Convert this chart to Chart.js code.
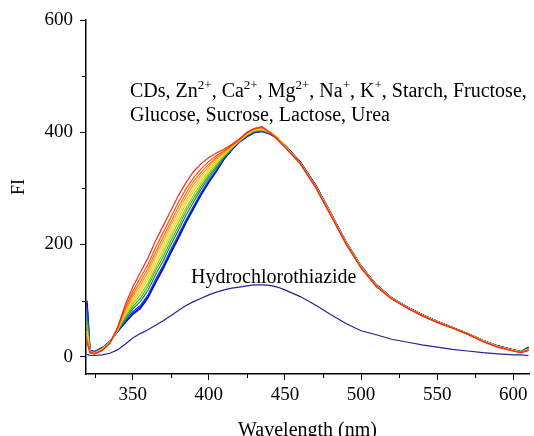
<!DOCTYPE html>
<html>
<head>
<meta charset="utf-8">
<script src="https://cdn.jsdelivr.net/npm/chart.js@4.4.0/dist/chart.umd.min.js"></script>
<style>
  html, body { margin: 0; padding: 0; width: 534px; height: 436px; overflow: hidden; background: #fff; }
  #wrap { position: relative; width: 534px; height: 446px; }
  canvas { display: block; }
  .note {
    position: absolute;
    font-family: "Liberation Serif", "Times New Roman", serif;
    font-size: 20px;
    line-height: 24px;
    color: #000;
    white-space: nowrap;
  }
  .note sup { font-size: 13px; line-height: 0; vertical-align: baseline; position: relative; top: -8px; }
  #ylab { font-size: 18px; line-height: 18px; transform: translate(-50%, -50%) rotate(-90deg); }
</style>
</head>
<body>
<div id="wrap">
  <canvas id="chart" width="534" height="446"></canvas>
  <div class="note" style="left:130px; top:78px;">CDs, Zn<sup>2+</sup>, Ca<sup>2+</sup>, Mg<sup>2+</sup>, Na<sup>+</sup>, K<sup>+</sup>, Starch, Fructose,<br>Glucose, Sucrose, Lactose, Urea</div>
  <div class="note" style="left:191px; top:264px;">Hydrochlorothiazide</div>
  <div class="note" id="ylab" style="left:18px; top:187px;">FI</div>
</div>
<script>
// Wavelength grid (nm)
const wavelength = [320, 322, 325, 330, 335, 340, 345, 350, 355, 360, 365, 370, 375, 380, 385, 390, 395, 400, 405, 410, 415, 420, 425, 430, 435, 440, 445, 450, 460, 470, 480, 490, 500, 510, 520, 530, 540, 550, 560, 570, 580, 590, 600, 605, 610];

// Fluorescence intensity, one array per sample (blue -> red)
const cds      = [100, 11, 9, 16, 27, 44, 60, 75, 85, 104, 131, 156, 184, 210, 238, 263, 288, 310, 330, 352, 368, 382, 392, 399, 401, 397, 389, 377, 347, 307, 257, 205, 162, 128, 105, 89, 75, 63, 52, 41, 29, 19, 12, 9, 17];
const zinc     = [96, 11, 9, 16, 27, 45, 61, 77, 88, 107, 134, 159, 187, 213, 241, 266, 290, 312, 331, 352, 368, 382, 392, 400, 402, 397, 389, 377, 347, 306, 256, 205, 161, 128, 105, 89, 75, 63, 52, 41, 29, 19, 12, 9, 16];
const calcium  = [88, 10, 8, 15, 27, 45, 63, 80, 91, 110, 138, 163, 191, 217, 244, 269, 293, 314, 333, 353, 369, 383, 393, 400, 402, 398, 389, 376, 346, 306, 256, 204, 161, 128, 105, 89, 75, 63, 52, 41, 29, 18, 12, 9, 15];
const magnes   = [72, 10, 8, 15, 26, 46, 66, 85, 98, 118, 146, 171, 199, 225, 252, 276, 299, 319, 337, 355, 370, 383, 394, 401, 403, 398, 390, 376, 346, 305, 255, 204, 161, 127, 105, 88, 75, 62, 52, 41, 28, 18, 11, 9, 15];
const sodium   = [64, 9, 7, 14, 26, 46, 69, 89, 104, 125, 153, 178, 206, 232, 259, 282, 304, 323, 340, 357, 371, 384, 395, 402, 404, 399, 390, 376, 346, 305, 255, 204, 160, 127, 104, 88, 74, 62, 52, 41, 28, 18, 11, 8, 14];
const potass   = [56, 9, 7, 14, 26, 47, 72, 94, 110, 131, 159, 185, 213, 239, 265, 288, 309, 327, 343, 358, 372, 384, 396, 403, 405, 399, 390, 375, 345, 304, 255, 203, 160, 127, 104, 88, 74, 62, 51, 41, 28, 18, 11, 8, 14];
const starch   = [46, 8, 6, 13, 25, 48, 75, 98, 116, 138, 166, 192, 220, 246, 272, 295, 314, 331, 346, 360, 373, 385, 396, 404, 405, 400, 391, 375, 345, 304, 254, 203, 160, 127, 104, 88, 74, 62, 51, 40, 28, 18, 11, 8, 13];
const fructose = [40, 8, 6, 13, 25, 48, 78, 102, 121, 144, 173, 199, 227, 253, 278, 301, 319, 335, 349, 362, 374, 385, 397, 404, 406, 399, 390, 375, 345, 304, 254, 203, 159, 126, 104, 88, 74, 62, 51, 40, 28, 18, 11, 8, 13];
const glucose  = [36, 8, 6, 12, 25, 49, 81, 107, 127, 151, 180, 206, 234, 260, 285, 307, 324, 339, 352, 364, 375, 386, 398, 405, 407, 400, 390, 374, 345, 303, 254, 202, 159, 126, 104, 87, 74, 62, 51, 40, 28, 17, 11, 8, 12];
const sucrose  = [32, 7, 5, 12, 24, 50, 84, 111, 133, 157, 186, 213, 240, 267, 291, 313, 329, 343, 355, 365, 376, 386, 399, 406, 408, 401, 389, 374, 344, 303, 253, 202, 159, 126, 103, 87, 73, 61, 51, 40, 27, 17, 10, 8, 12];
const lactose  = [28, 7, 5, 11, 24, 50, 87, 116, 140, 164, 194, 221, 248, 275, 299, 319, 335, 348, 358, 367, 377, 387, 399, 406, 409, 400, 389, 374, 345, 303, 253, 202, 158, 125, 103, 87, 73, 61, 51, 40, 27, 17, 10, 7, 11];
const urea     = [24, 7, 5, 11, 24, 52, 92, 124, 150, 176, 206, 233, 260, 287, 310, 330, 344, 355, 363, 370, 378, 388, 400, 407, 410, 399, 387, 373, 344, 302, 252, 201, 158, 125, 103, 87, 73, 61, 51, 40, 27, 17, 10, 7, 11];
const hctz     = [4, 2, 2, 3, 6, 12, 22, 33, 41, 48, 56, 64, 73, 82, 91, 98, 104, 110, 115, 119, 122, 124, 126, 128, 128, 127, 124, 119, 107, 92, 75, 59, 46, 39, 31, 26, 21, 17, 13, 10, 7, 5, 3, 3, 2];

// Axis ticks
const xMajor = [350, 400, 450, 500, 550, 600];
const xMinor = [325, 375, 425, 475, 525, 575];
const yMajor = [0, 200, 400, 600];
const yMinor = [100, 300, 500];

const samples = [cds, zinc, calcium, magnes, sodium, potass, starch, fructose, glucose, sucrose, lactose, urea];
const colors = ['#1c1c96', '#0000e6', '#1437f0', '#118c3c', '#3cb41e', '#96c814', '#e0dc00', '#ffc83c', '#ffa01e', '#ff7814', '#ff5014', '#ff2814'];

const serif = '"Liberation Serif", "Times New Roman", serif';

function toPoints(values) {
  return wavelength.map((w, i) => ({ x: w, y: values[i] }));
}

// red first so it sits on top (dataset 0 is drawn last)
const datasets = [];
for (let i = samples.length - 1; i >= 0; i--) {
  datasets.push({
    data: toPoints(samples[i]),
    borderColor: colors[i],
    borderWidth: 1.2,
    pointRadius: 0,
    fill: false
  });
}
datasets.push({
  data: toPoints(hctz),
  borderColor: '#2a1f9a',
  borderWidth: 1.2,
  pointRadius: 0,
  fill: false
});

// small outward minor ticks
const minorTicks = {
  id: 'minorTicks',
  afterDraw(chart) {
    const { ctx, scales: { x, y } } = chart;
    ctx.save();
    ctx.strokeStyle = '#000';
    ctx.lineWidth = 1;
    ctx.beginPath();
    xMinor.forEach(v => {
      const px = Math.round(x.getPixelForValue(v)) + 0.5;
      ctx.moveTo(px, x.top);
      ctx.lineTo(px, x.top + 4);
    });
    yMinor.forEach(v => {
      const py = Math.round(y.getPixelForValue(v)) + 0.5;
      ctx.moveTo(y.right, py);
      ctx.lineTo(y.right - 4, py);
    });
    ctx.stroke();
    ctx.restore();
  }
};

new Chart(document.getElementById('chart'), {
  type: 'line',
  data: { datasets },
  options: {
    responsive: false,
    animation: false,
    layout: { padding: { top: 20, right: 5, left: 0, bottom: 0 } },
    plugins: { legend: { display: false }, tooltip: { enabled: false } },
    scales: {
      x: {
        type: 'linear',
        min: 319.3,
        max: 610.3,
        afterBuildTicks: s => { s.ticks = xMajor.map(v => ({ value: v })); },
        afterFit: s => { s.height = 72; },
        ticks: { color: '#000', font: { family: serif, size: 19 }, padding: 4, maxRotation: 0 },
        grid: { drawOnChartArea: false, tickLength: 6, tickColor: '#000', tickWidth: 1 },
        border: { color: '#000', width: 1.5 },
        title: { display: true, text: 'Wavelength (nm)', color: '#000', font: { family: serif, size: 20 }, padding: { top: 0, bottom: 3 } }
      },
      y: {
        min: -31,
        max: 600,
        afterBuildTicks: s => { s.ticks = yMajor.map(v => ({ value: v })); },
        afterFit: s => { s.width = 86; },
        ticks: { color: '#000', font: { family: serif, size: 19 }, padding: 7 },
        grid: { drawOnChartArea: false, tickLength: 6, tickColor: '#000', tickWidth: 1 },
        border: { color: '#000', width: 1.5 }
      }
    }
  },
  plugins: [minorTicks]
});
</script>
</body>
</html>
